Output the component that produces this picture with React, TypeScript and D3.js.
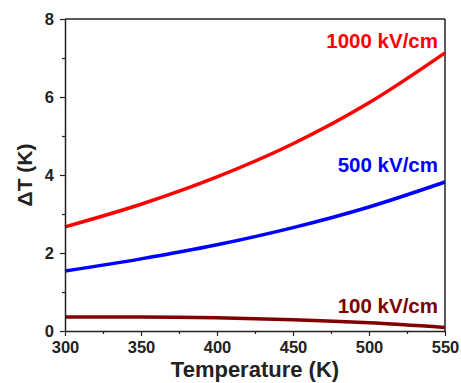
import React, { useEffect, useRef } from 'react';
import * as d3 from 'd3';

// Temperatures (K)
const temps = [300, 350, 400, 450, 500, 550];
// ΔT (K) for each field
const dt1000 = [2.67, 3.25, 3.95, 4.8, 5.85, 7.13];
const dt500 = [1.54, 1.85, 2.21, 2.65, 3.18, 3.82];
const dt100 = [0.36, 0.36, 0.34, 0.29, 0.21, 0.09];

const seriesLabels = ['1000 kV/cm', '500 kV/cm', '100 kV/cm'];
const seriesColors = ['#ff0000', '#0000ff', '#800000'];

const xTicks = [300, 350, 400, 450, 500, 550];
const yTicks = [0, 2, 4, 6, 8];

const width = 461;
const height = 383;
const margin = { top: 19, right: 16, bottom: 52, left: 65 };

export default function App() {
  const svgRef = useRef<SVGSVGElement>(null);

  useEffect(() => {
    if (!svgRef.current) return;
    const svg = d3.select(svgRef.current);
    svg.selectAll('*').remove();

    const innerWidth = width - margin.left - margin.right;
    const innerHeight = height - margin.top - margin.bottom;

    const g = svg.append('g')
      .attr('transform', `translate(${margin.left}, ${margin.top})`);

    const x = d3.scaleLinear().domain([300, 550]).range([0, innerWidth]);
    const y = d3.scaleLinear().domain([0, 8]).range([innerHeight, 0]);

    const font = 'Liberation Sans, Arial, sans-serif';

    // Frame (top and right)
    g.append('line')
      .attr('x1', 0).attr('x2', innerWidth).attr('y1', 0).attr('y2', 0)
      .attr('stroke', '#222').attr('stroke-width', 1.5);
    g.append('line')
      .attr('x1', innerWidth).attr('x2', innerWidth).attr('y1', 0).attr('y2', innerHeight)
      .attr('stroke', '#222').attr('stroke-width', 1.5);

    // Lines
    const all = [dt1000, dt500, dt100];
    const line = d3.line<number>()
      .x((_, i) => x(temps[i]))
      .y(d => y(d))
      .curve(d3.curveMonotoneX);

    all.forEach((vals, k) => {
      g.append('path')
        .datum(vals)
        .attr('fill', 'none')
        .attr('stroke', seriesColors[k])
        .attr('stroke-width', 3.5)
        .attr('d', line);
    });

    // X axis
    const xAxis = g.append('g')
      .attr('transform', `translate(0, ${innerHeight})`)
      .call(d3.axisBottom(x).tickValues(xTicks).tickSize(5).tickSizeOuter(0).tickPadding(5));
    g.append('g')
      .attr('transform', `translate(0, ${innerHeight})`)
      .call(d3.axisBottom(x).tickValues(d3.range(325, 550, 50)).tickSize(3).tickFormat(() => '').tickSizeOuter(0))
      .select('.domain').remove();

    // Y axis
    const yAxis = g.append('g')
      .call(d3.axisLeft(y).tickValues(yTicks).tickSize(5).tickSizeOuter(0).tickPadding(6));
    g.append('g')
      .call(d3.axisLeft(y).tickValues([1, 3, 5, 7]).tickSize(3).tickFormat(() => '').tickSizeOuter(0))
      .select('.domain').remove();

    [xAxis, yAxis].forEach(ax => {
      ax.selectAll('text')
        .style('font-family', font)
        .style('font-size', '16.5px')
        .style('font-weight', 'bold')
        .style('fill', '#222');
    });
    g.selectAll('.domain').style('stroke', '#222').style('stroke-width', '1.5px');
    g.selectAll('.tick line').style('stroke', '#222').style('stroke-width', '1.2px');

    // Series labels
    const labelY = [48, 172, 313];
    seriesLabels.forEach((t, k) => {
      svg.append('text')
        .attr('x', 438)
        .attr('y', labelY[k])
        .attr('text-anchor', 'end')
        .style('font-family', font)
        .style('font-size', '20.5px')
        .style('font-weight', 'bold')
        .style('fill', seriesColors[k])
        .text(t);
    });

    // Axis titles
    svg.append('text')
      .attr('x', margin.left + innerWidth / 2)
      .attr('y', 377)
      .attr('text-anchor', 'middle')
      .style('font-family', font)
      .style('font-size', '22px')
      .style('font-weight', 'bold')
      .style('fill', '#222')
      .text('Temperature (K)');

    svg.append('text')
      .attr('transform', `translate(32, ${margin.top + innerHeight / 2}) rotate(-90)`)
      .attr('text-anchor', 'middle')
      .style('font-family', font)
      .style('font-size', '21px')
      .style('font-weight', 'bold')
      .style('fill', '#222')
      .text('ΔT (K)');
  }, []);

  return (
    <svg
      ref={svgRef}
      width={width}
      height={height}
      viewBox={`0 0 ${width} ${height}`}
      style={{ position: 'absolute', left: 0, top: 0, background: '#fff' }}
    />
  );
}
